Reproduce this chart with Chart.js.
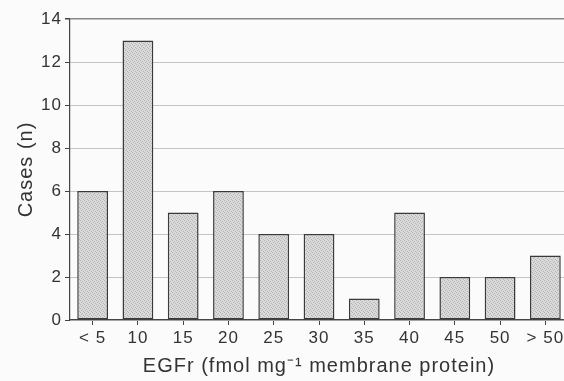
<!DOCTYPE html>
<html>
<head>
<meta charset="utf-8">
<script src="https://cdn.jsdelivr.net/npm/chart.js@4"></script>
<style>
  html, body { margin: 0; padding: 0; background: #fbfbfb; overflow: hidden; }
  #wrap { width: 572px; height: 381px; }
</style>
</head>
<body>
<div id="wrap"><canvas id="grafico" width="572" height="381"></canvas></div>
<script>
// categorias e valores
var categorias = ['< 5', '10', '15', '20', '25', '30', '35', '40', '45', '50', '> 50'];
var casos = [6, 13, 5, 6, 4, 4, 1, 5, 2, 2, 3];
var ticksY = [0, 2, 4, 6, 8, 10, 12, 14];

// padrao pontilhado cinza das barras
function pontilhado() {
    var c = document.createElement('canvas');
    c.width = 4; c.height = 4;
    var g = c.getContext('2d');
    g.fillStyle = '#dadada';
    g.fillRect(0, 0, 4, 4);
    g.fillStyle = '#b4b4b4';
    g.fillRect(0, 0, 1, 1);
    g.fillRect(2, 1, 1, 1);
    g.fillRect(1, 2, 1, 1);
    g.fillRect(3, 3, 1, 1);
    return g.createPattern(c, 'repeat');
}

var fonteTick = { family: "'Liberation Sans', Arial, sans-serif", size: 17 };
var fonteTitulo = { family: "'Liberation Sans', Arial, sans-serif", size: 20 };

// espacamento de letras um pouco maior, como na figura impressa
var espacamento = {
    id: 'espacamento',
    beforeDraw: function (chart) { chart.ctx.letterSpacing = '1px'; }
};

var ctx = document.getElementById('grafico');
var chartGraph = new Chart(ctx, {
    type: 'bar',
    data: {
        labels: categorias,
        datasets: [{
            data: casos,
            backgroundColor: pontilhado(),
            borderColor: '#3a3a3a',
            borderWidth: 1.5,
            borderSkipped: false,
            barPercentage: 0.68,
            categoryPercentage: 1
        }]
    },
    options: {
        responsive: false,
        animation: false,
        layout: { padding: { top: 19, right: 4, bottom: 0, left: 0 } },
        plugins: { legend: { display: false }, tooltip: { enabled: false } },
        scales: {
            x: {
                offset: true,
                grid: { offset: false, drawOnChartArea: false, tickLength: 5, color: '#444', lineWidth: 1 },
                border: { color: '#444', width: 1.2 },
                ticks: { color: '#333', font: fonteTick, padding: 3, maxRotation: 0, autoSkip: false },
                title: { display: true, text: 'EGFr (fmol mg\u207B\u00B9 membrane protein)', color: '#333', font: fonteTitulo, padding: { top: 4, bottom: 3 } },
                afterFit: function (s) { s.height = 61; }
            },
            y: {
                min: 0,
                max: 14,
                afterBuildTicks: function (s) { s.ticks = ticksY.map(function (v) { return { value: v }; }); },
                grid: {
                    color: function (c) { return c.tick && c.tick.value === 14 ? '#888' : '#c4c4c4'; },
                    lineWidth: function (c) { return c.tick && c.tick.value === 14 ? 1.5 : 1; },
                    tickLength: 5,
                    tickColor: '#444'
                },
                border: { color: '#444', width: 1.2 },
                ticks: { color: '#333', font: fonteTick, padding: 3 },
                title: { display: true, text: 'Cases (n)', color: '#333', font: fonteTitulo, padding: { top: 14, bottom: 0 } },
                afterFit: function (s) { s.width = 70; }
            }
        }
    },
    plugins: [espacamento]
});
</script>
</body>
</html>
